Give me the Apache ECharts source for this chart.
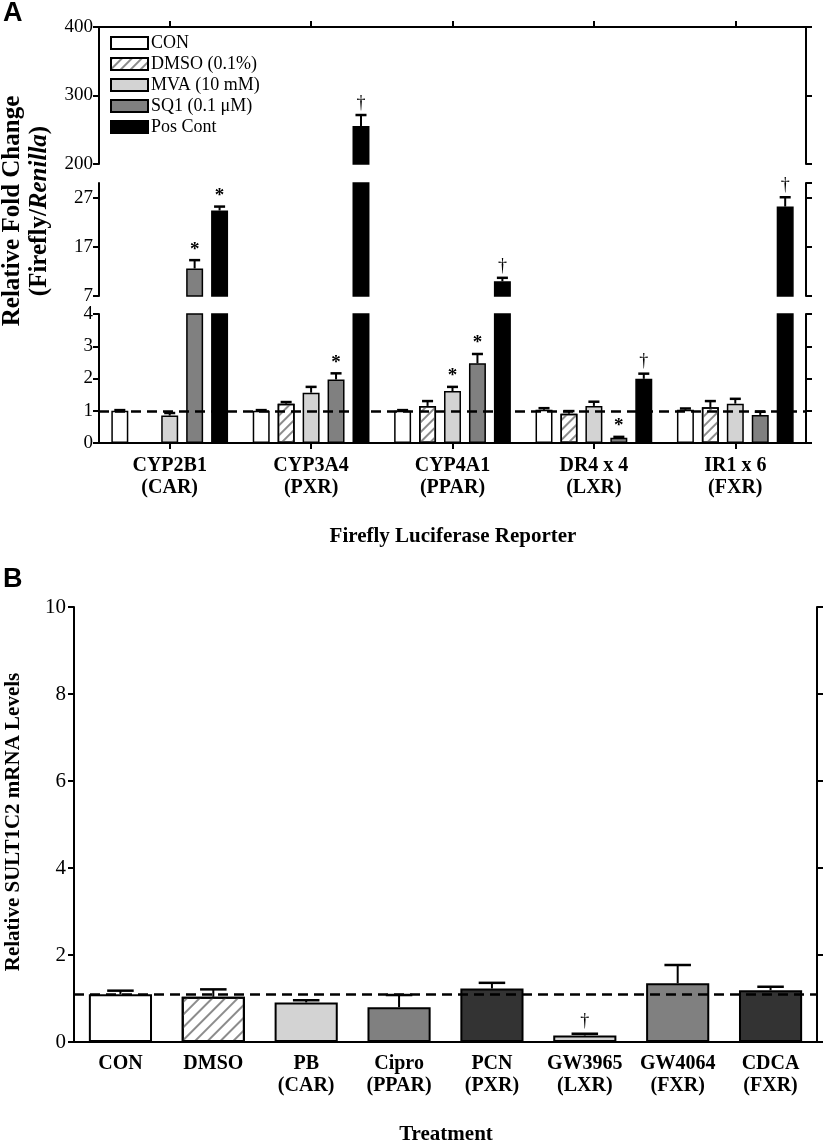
<!DOCTYPE html>
<html>
<head>
<meta charset="utf-8">
<script src="https://cdn.jsdelivr.net/npm/echarts@6/dist/echarts.min.js"></script>
<style>
  html, body { margin: 0; padding: 0; background: #fff; }
  #chart { width: 827px; height: 1143px; }
</style>
</head>
<body>
<div id="chart"></div>
<script>
// ---- panel A data: luciferase reporters ----
const reporters = ['CYP2B1\n(CAR)', 'CYP3A4\n(PXR)', 'CYP4A1\n(PPAR)', 'DR4 x 4\n(LXR)', 'IR1 x 6\n(FXR)'];
const groupNames = ['CON', 'DMSO (0.1%)', 'MVA (10 mM)', 'SQ1 (0.1 μM)', 'Pos Cont'];
const conVals = [1.0, 1.0, 1.0, 1.03, 1.03];
const conErr = [0.02, 0.02, 0.02, 0.05, 0.04];
const dmsoVals = [null, 1.22, 1.15, 0.91, 1.11];
const dmsoErr = [null, 0.05, 0.15, 0.08, 0.19];
const mvaVals = [0.85, 1.56, 1.61, 1.15, 1.22];
const mvaErr = [0.08, 0.18, 0.13, 0.13, 0.15];
const sq1Vals = [12.6, 1.97, 2.47, 0.16, 0.87];
const sq1Err = [1.7, 0.19, 0.29, 0.03, 0.1];
const posVals = [24.4, 255.5, 10.0, 1.99, 25.2];
const posErr = [0.8, 16, 0.7, 0.16, 1.9];
const conMarks = ['', '', '', '', ''];
const dmsoMarks = ['', '', '', '', ''];
const mvaMarks = ['', '', '*', '', ''];
const sq1Marks = ['*', '*', '*', '*', ''];
const posMarks = ['*', '†', '†', '†', '†'];
const foldBaseline = 1;
// broken y axis: [min, max, interval] for top, middle, bottom pieces
const segTop = [200, 400, 100];
const segMid = [7, 30, 10];
const segLow = [0, 4, 1];

// ---- panel B data: SULT1C2 mRNA ----
const treatments = ['CON', 'DMSO', 'PB\n(CAR)', 'Cipro\n(PPAR)', 'PCN\n(PXR)', 'GW3965\n(LXR)', 'GW4064\n(FXR)', 'CDCA\n(FXR)'];
const mrnaVals = [1.1, 1.04, 0.91, 0.8, 1.23, 0.15, 1.35, 1.19];
const mrnaErr = [0.08, 0.17, 0.05, 0.28, 0.13, 0.04, 0.42, 0.08];
const mrnaMarks = ['', '', '', '', '', '†', '', ''];
const mrnaBaseline = 1.1;
const mrnaTicks = [0, 10, 2];

const allVals = [conVals, dmsoVals, mvaVals, sq1Vals, posVals];
const allErr = [conErr, dmsoErr, mvaErr, sq1Err, posErr];
const allMarks = [conMarks, dmsoMarks, mvaMarks, sq1Marks, posMarks];

const serif = '"Liberation Serif", "DejaVu Serif", serif';
const hatch = { symbol: 'rect', symbolSize: 1, dashArrayX: [1, 0], dashArrayY: [2, 5], rotation: -Math.PI / 4, color: '#8c8c8c' };
const fillA = ['#ffffff', '#ffffff', '#d3d3d3', '#808080', '#000000'];
const fillB = ['#ffffff', '#ffffff', '#d3d3d3', '#808080', '#333333', '#d3d3d3', '#808080', '#333333'];

const chart = echarts.init(document.getElementById('chart'), null, { renderer: 'canvas' });

const BAR_W_A = 0.12, GAP_A = 0.47;

function errSeries(items, xi, yi, n, k, widthPct, gapPct, capFrac) {
  return {
    type: 'custom',
    xAxisIndex: xi,
    yAxisIndex: yi,
    silent: true,
    clip: false,
    z: 5,
    data: items.map(d => d.value),
    renderItem: function (params, api) {
      const cat = api.value(0), v = api.value(1), e = api.value(2);
      const band = api.size([1, 0])[0];
      const bw = band * widthPct;
      const off = (k - (n - 1) / 2) * bw * (1 + gapPct);
      const p0 = api.coord([cat, v]);
      const p1 = api.coord([cat, v + e]);
      const x = p0[0] + off;
      const cap = bw * capFrac / 2;
      const kids = [
        { type: 'line', shape: { x1: x, y1: p0[1], x2: x, y2: p1[1] }, style: { stroke: '#000', lineWidth: 2 } },
        { type: 'line', shape: { x1: x - cap, y1: p1[1], x2: x + cap, y2: p1[1] }, style: { stroke: '#000', lineWidth: 2.5 } }
      ];
      const mark = items[params.dataIndex].mark;
      if (mark) {
        kids.push({
          type: 'text',
          style: {
            text: mark, x: x, y: p1[1] - (mark === '*' ? 1 : 3),
            align: 'center', verticalAlign: 'bottom',
            font: (mark === '*' ? 'bold 19px ' : '18px ') + serif, fill: '#000'
          }
        });
      }
      return { type: 'group', children: kids };
    }
  };
}

// grids of panel A, top to bottom
const segs = [segTop, segMid, segLow];
const gridsA = [
  { left: 99, right: 21, top: 27, height: 137 },
  { left: 99, right: 21, top: 183, height: 113 },
  { left: 99, right: 21, top: 314, height: 129 }
];

const xAxes = [];
const yAxes = [];
const series = [];

const tickLbl = { color: '#000', fontFamily: serif, fontSize: 19, margin: 6 };
const axLine = { show: true, lineStyle: { color: '#000', width: 2 } };
const axTick = { show: true, length: 6, lineStyle: { color: '#000', width: 2 } };
const dashStyle = { color: '#000', type: [10, 6], width: 2.5 };

segs.forEach((s, g) => {
  const isTop = g === 0, isLow = g === 2;
  xAxes.push({
    type: 'category', gridIndex: g, data: reporters,
    position: isTop ? 'top' : 'bottom',
    show: isTop || isLow,
    axisLine: axLine,
    axisTick: Object.assign({ alignWithLabel: true }, axTick),
    axisLabel: isLow ? {
      show: true, interval: 0, color: '#000', fontFamily: serif, fontWeight: 'bold', fontSize: 20,
      lineHeight: 22, margin: 12
    } : { show: false },
    splitLine: { show: false }
  });
  ['left', 'right'].forEach(pos => {
    yAxes.push({
      type: 'value', gridIndex: g, position: pos,
      min: s[0], max: s[1], interval: s[2],
      axisLine: axLine, axisTick: axTick,
      axisLabel: pos === 'left' ? Object.assign({ showMaxLabel: g !== 1 }, tickLbl) : { show: false },
      splitLine: { show: false }
    });
  });
  allVals.forEach((vals, k) => {
    const bar = {
      type: 'bar', name: groupNames[k],
      xAxisIndex: g, yAxisIndex: g * 2,
      data: vals.map(v => (v == null ? '-' : v)),
      barWidth: (BAR_W_A * 100) + '%', barGap: (GAP_A * 100) + '%',
      clip: true, silent: true,
      itemStyle: { color: fillA[k], borderColor: '#000', borderWidth: 1.5 }
    };
    if (k === 1) bar.itemStyle.decal = hatch;
    if (isLow && k === 0) {
      bar.markLine = {
        silent: true, symbol: 'none', label: { show: false },
        lineStyle: dashStyle,
        data: [{ yAxis: foldBaseline }]
      };
    }
    series.push(bar);
    const items = [];
    vals.forEach((v, i) => {
      if (v == null) return;
      const top = v + allErr[k][i];
      if (top >= s[0] && top <= s[1]) items.push({ value: [i, v, allErr[k][i]], mark: allMarks[k][i] });
    });
    series.push(errSeries(items, g, g * 2, 5, k, BAR_W_A, GAP_A, 0.65));
  });
});

// panel B
xAxes.push({
  type: 'category', gridIndex: 3, data: treatments, position: 'bottom',
  axisLine: axLine, axisTick: { show: false },
  axisLabel: { interval: 0, color: '#000', fontFamily: serif, fontWeight: 'bold', fontSize: 20, lineHeight: 22, margin: 11 }
});
xAxes.push({
  type: 'category', gridIndex: 3, data: treatments, position: 'top',
  axisLine: axLine, axisTick: { show: false }, axisLabel: { show: false }
});
['left', 'right'].forEach(pos => {
  yAxes.push({
    type: 'value', gridIndex: 3, position: pos,
    min: mrnaTicks[0], max: mrnaTicks[1], interval: mrnaTicks[2],
    axisLine: axLine, axisTick: axTick,
    axisLabel: pos === 'left' ? Object.assign({}, tickLbl, { fontSize: 21, margin: 8 }) : { show: false },
    splitLine: { show: false }
  });
});
series.push({
  type: 'bar', xAxisIndex: 3, yAxisIndex: 6, barWidth: '68%', silent: true,
  data: mrnaVals.map((v, i) => {
    const st = { color: fillB[i], borderColor: '#000', borderWidth: 2 };
    if (i === 1) st.decal = Object.assign({}, hatch, { dashArrayY: [2, 7] });
    return { value: v, itemStyle: st };
  }),
  markLine: {
    silent: true, symbol: 'none', label: { show: false },
    lineStyle: dashStyle,
    data: [{ yAxis: mrnaBaseline }]
  }
});
series.push(errSeries(
  mrnaVals.map((v, i) => ({ value: [i, v, mrnaErr[i]], mark: mrnaMarks[i] })),
  3, 6, 1, 0, 0.68, 0, 0.42
));

const option = {
  animation: false,
  backgroundColor: '#fff',
  grid: gridsA.concat([{ left: 74, right: 10, top: 607, height: 435 }]),
  xAxis: xAxes,
  yAxis: yAxes,
  legend: {
    data: groupNames,
    orient: 'vertical', left: 110, top: 34, padding: 0,
    itemWidth: 37, itemHeight: 12, itemGap: 3,
    icon: 'rect', selectedMode: false,
    itemStyle: { borderColor: '#000', borderWidth: 2 },
    textStyle: { color: '#000', fontFamily: serif, fontSize: 18, padding: [0, 0, 0, -2] }
  },
  graphic: [
    { type: 'text', left: 3, top: 0, style: { text: 'A', font: 'bold 27px "Liberation Sans", Arial, sans-serif', fill: '#000' } },
    { type: 'text', left: 3, top: 566, style: { text: 'B', font: 'bold 27px "Liberation Sans", Arial, sans-serif', fill: '#000' } },
    {
      type: 'text', x: 26, y: 211, rotation: Math.PI / 2,
      style: {
        text: '{b|Relative Fold Change}\n{b|(Firefly/}{i|Renilla}{b|)}',
        align: 'center', verticalAlign: 'middle',
        rich: {
          b: { font: 'bold 25px ' + serif, fill: '#000', lineHeight: 27 },
          i: { font: 'italic bold 25px ' + serif, fill: '#000', lineHeight: 27 }
        }
      }
    },
    { type: 'text', x: 453, y: 537, style: { text: 'Firefly Luciferase Reporter', align: 'center', verticalAlign: 'middle', font: 'bold 21px ' + serif, fill: '#000' } },
    { type: 'text', x: 14, y: 822, rotation: Math.PI / 2, style: { text: 'Relative SULT1C2 mRNA Levels', align: 'center', verticalAlign: 'middle', font: 'bold 21px ' + serif, fill: '#000' } },
    { type: 'text', x: 446, y: 1135, style: { text: 'Treatment', align: 'center', verticalAlign: 'middle', font: 'bold 21px ' + serif, fill: '#000' } }
  ],
  series: series
};

chart.setOption(option);
</script>
</body>
</html>
